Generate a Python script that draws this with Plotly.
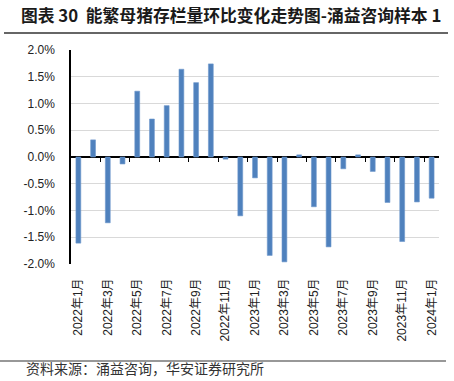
import plotly.graph_objects as go

months = [f"{y}年{m}月" for y, m in
          [(2022, i) for i in range(1, 13)] + [(2023, i) for i in range(1, 13)] + [(2024, 1)]]
values = [-1.61, 0.32, -1.23, -0.13, 1.23, 0.71, 0.96, 1.64, 1.39, 1.74, -0.04, -1.10,
          -0.39, -1.84, -1.96, 0.04, -0.93, -1.68, -0.22, 0.04, -0.27, -0.85, -1.58, -0.84, -0.77]
y_tickvals = [-2.0, -1.5, -1.0, -0.5, 0.0, 0.5, 1.0, 1.5, 2.0]
y_ticktext = ["-2.0%", "-1.5%", "-1.0%", "-0.5%", "0.0%", "0.5%", "1.0%", "1.5%", "2.0%"]
title_text = "图表 30  能繁母猪存栏量环比变化走势图-涌益咨询样本 1"
source_text = "资料来源：涌益咨询，华安证券研究所"

W, H = 454, 381
ML, MR, MT, MB = 71, 15, 50, 117
PH = H - MT - MB
PW = W - ML - MR

def py(pix):
    return (H - MB - pix) / PH

def px(pix):
    return (pix - ML) / PW

xs = list(range(len(months)))
label_idx = xs[::2]

FONT = "Arial, 'Liberation Sans', 'Noto Sans CJK SC', sans-serif"

fig = go.Figure()
fig.add_trace(go.Bar(
    x=xs, y=values, width=0.33,
    marker=dict(color="#4f81bd", line=dict(color="#6e98cc", width=0.6)),
    showlegend=False,
))
# helper trace to anchor the tick-mark axis at the zero line
fig.add_trace(go.Scatter(x=[xs[0]], y=[0], xaxis="x2", mode="markers",
                         marker=dict(opacity=0), showlegend=False, hoverinfo="skip"))

fig.update_layout(
    width=W, height=H,
    margin=dict(l=ML, r=MR, t=MT, b=MB),
    paper_bgcolor="white", plot_bgcolor="white",
    font=dict(family=FONT, size=12, color="#222"),
    xaxis=dict(
        range=[-0.5, len(xs) - 0.5],
        tickmode="array", tickvals=label_idx, ticktext=[months[i] for i in label_idx],
        tickangle=-90, showgrid=False, zeroline=False, showline=False,
        ticks="", ticklabelstandoff=11,
        tickfont=dict(family="Arial, 'Liberation Sans', 'Noto Sans CJK SC'", size=12, color="#222"),
    ),
    xaxis2=dict(
        overlaying="x", anchor="free", position=py(157.3), side="bottom",
        range=[-0.5, len(xs) - 0.5],
        tickmode="array", tickvals=[i - 0.5 for i in xs[2::2]],
        ticks="outside", ticklen=4, tickwidth=1.3, tickcolor="black",
        showticklabels=False, showgrid=False, zeroline=False, showline=False,
    ),
    yaxis=dict(
        range=[-2.0, 2.0], domain=[0, 1],
        tickmode="array", tickvals=y_tickvals, ticktext=y_ticktext,
        showgrid=True, gridcolor="#d9d9d9", gridwidth=1,
        zeroline=True, zerolinecolor="black", zerolinewidth=1.5,
        showline=True, linecolor="black", linewidth=1.5,
        ticks="", ticklabelstandoff=12,
        tickfont=dict(size=12, color="#222"),
    ),
    bargap=0.67,
)

fig.add_annotation(
    text=f"<b>{title_text}</b>", xref="paper", yref="paper",
    x=px(231), y=py(15), xanchor="center", yanchor="middle", showarrow=False,
    font=dict(family="'Noto Sans CJK SC', Arial, sans-serif", size=16.8, color="#1a1a1a"),
)
fig.add_shape(type="line", xref="paper", yref="paper",
              x0=px(4), x1=px(448), y0=py(33), y1=py(33),
              line=dict(color="#333", width=1.5))
fig.add_shape(type="line", xref="paper", yref="paper",
              x0=px(0), x1=px(446), y0=py(361), y1=py(361),
              line=dict(color="#333", width=1.2))
fig.add_annotation(
    text=source_text, xref="paper", yref="paper",
    x=px(24), y=py(368), xanchor="left", yanchor="middle", showarrow=False,
    font=dict(family="'Noto Sans CJK SC', sans-serif", size=14, color="#333"),
)

fig.write_html("out.html",
               config={"displayModeBar": False},
               post_script="document.body.style.margin='0';document.body.style.overflow='hidden';")
